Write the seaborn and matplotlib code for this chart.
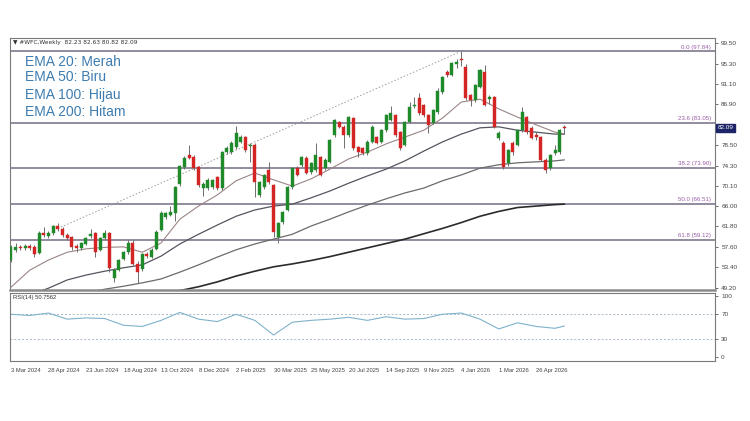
import numpy as np
import matplotlib
matplotlib.use("Agg")
import matplotlib.pyplot as plt
import matplotlib.transforms as mtransforms
import seaborn as sns

# weekly candles (bar 0 = 3 Mar 2024)
opens = [54.9, 57.0, 57.6, 57.3, 57.8, 57.6, 56.4, 60.4, 59.8, 60.4,
         61.9, 61.3, 60.0, 59.6, 57.8, 57.3, 58.2, 59.9, 60.4, 57.0,
         59.4, 60.4, 51.3, 52.9, 55.1, 56.5, 58.4, 54.1, 53.0, 56.1,
         55.6, 57.2, 61.1, 63.7, 64.2, 64.5, 70.5, 74.0, 76.5, 76.1,
         74.0, 69.7, 69.7, 70.0, 71.9, 69.7, 77.1, 77.1, 78.1, 79.2,
         80.2, 78.3, 78.6, 68.2, 69.9, 73.4, 70.3, 59.6, 62.7, 65.2,
         69.9, 73.8, 74.4, 75.9, 73.0, 73.4, 76.1, 73.8, 75.1, 80.6,
         83.3, 82.3, 80.6, 84.1, 78.1, 77.9, 76.9, 79.2, 80.2, 79.2,
         81.6, 83.7, 84.7, 81.2, 78.6, 83.3, 86.6, 88.2, 86.8, 84.7,
         83.1, 85.3, 89.4, 93.5, 93.0, 95.3, 96.1, 94.6, 88.8, 87.8,
         90.5, 93.6, 88.0, 88.4, 80.0, 79.0, 74.9, 79.0, 78.6, 81.6,
         84.3, 82.1, 80.6, 80.2, 75.5, 73.8, 76.9, 77.1, 82.23]
highs = [58.0, 58.3, 58.0, 58.1, 58.2, 57.9, 60.8, 61.7, 60.8, 62.2,
         62.5, 61.6, 60.4, 59.9, 58.2, 58.7, 59.6, 61.2, 60.7, 59.6,
         61.0, 60.7, 53.2, 55.2, 56.8, 59.0, 59.0, 54.6, 56.4, 56.6,
         57.3, 61.0, 64.9, 64.8, 66.0, 70.2, 74.5, 76.2, 78.6, 76.5,
         74.3, 71.0, 71.7, 71.6, 72.2, 77.4, 78.3, 79.3, 82.5, 80.6,
         80.5, 79.0, 78.9, 71.2, 72.7, 75.0, 70.6, 62.8, 65.0, 70.2,
         74.1, 74.2, 76.4, 76.2, 75.1, 79.0, 76.4, 75.8, 79.9, 84.0,
         83.6, 82.6, 84.6, 84.4, 78.4, 78.2, 79.5, 82.6, 80.5, 81.9,
         85.0, 86.6, 85.0, 81.5, 83.6, 87.4, 88.5, 89.2, 87.1, 85.0,
         86.0, 90.2, 92.8, 94.0, 95.7, 96.3, 97.84, 95.3, 89.1, 91.2,
         94.3, 95.0, 88.9, 88.7, 81.4, 79.4, 77.8, 79.3, 81.9, 86.4,
         84.6, 82.4, 81.3, 80.5, 75.8, 76.8, 78.6, 81.9, 82.63]
lows = [54.5, 56.6, 56.9, 56.9, 57.0, 55.5, 56.2, 59.6, 59.4, 60.1,
        60.8, 59.7, 59.0, 57.0, 56.5, 57.0, 57.9, 59.5, 55.5, 56.8,
        59.1, 52.4, 50.4, 52.6, 54.8, 56.2, 53.8, 50.1, 52.7, 55.3,
        55.3, 57.0, 60.8, 63.3, 63.9, 63.0, 70.2, 73.7, 75.6, 73.5,
        70.0, 68.0, 69.4, 69.6, 69.3, 69.4, 76.8, 76.8, 77.8, 78.9,
        77.2, 75.0, 67.8, 67.9, 69.6, 70.6, 59.6, 58.4, 62.4, 64.9,
        69.6, 72.1, 74.1, 72.5, 72.7, 73.1, 72.1, 73.5, 74.8, 80.3,
        82.0, 77.9, 80.3, 77.6, 76.0, 76.6, 76.6, 78.9, 78.7, 78.9,
        81.3, 83.4, 80.3, 77.6, 78.3, 83.0, 86.2, 84.8, 84.4, 81.0,
        82.8, 85.0, 89.1, 92.6, 92.7, 94.5, 94.8, 87.9, 86.5, 87.5,
        90.2, 86.5, 87.0, 82.0, 79.5, 73.7, 74.2, 76.6, 78.3, 81.3,
        80.9, 79.7, 79.5, 75.2, 72.8, 73.5, 76.6, 76.8, 80.82]
closes = [57.6, 57.6, 57.3, 57.7, 57.3, 56.2, 60.4, 60.1, 60.4, 61.9,
          61.2, 60.0, 59.4, 57.6, 57.3, 58.4, 59.4, 60.3, 56.5, 59.4,
          60.4, 53.2, 52.9, 54.9, 56.5, 58.4, 54.1, 52.5, 56.1, 55.8,
          57.0, 60.6, 64.5, 64.5, 64.8, 69.9, 74.2, 75.9, 75.9, 73.8,
          70.3, 70.6, 71.3, 71.3, 69.7, 77.1, 77.9, 79.0, 81.0, 80.2,
          77.5, 78.6, 70.9, 70.9, 72.4, 70.9, 60.7, 62.5, 64.7, 69.9,
          73.8, 72.4, 76.1, 72.8, 74.8, 76.5, 72.4, 75.5, 79.6, 83.7,
          82.3, 80.6, 84.3, 77.9, 77.1, 76.9, 79.2, 82.3, 79.0, 81.6,
          84.7, 85.1, 80.6, 77.9, 83.3, 86.4, 86.8, 85.1, 84.7, 82.7,
          85.7, 89.7, 92.5, 92.9, 95.4, 95.6, 96.0, 88.2, 87.8, 90.9,
          94.0, 86.8, 88.5, 82.3, 81.0, 74.0, 77.5, 77.1, 81.6, 85.3,
          81.2, 80.0, 80.2, 75.5, 73.4, 76.5, 77.5, 81.6, 82.09]

# moving averages, sampled every 4 bars
ema_bars = [0, 4, 8, 12, 16, 20, 24, 28, 32, 36, 40, 44, 48, 52, 56, 60,
            64, 68, 72, 76, 80, 84, 88, 92, 96, 100, 104, 108, 112, 116, 118]
ema20 = [49.3, 52.8, 54.9, 56.5, 57.2, 57.5, 57.6, 56.5, 58.4, 63.3, 66.0,
         68.3, 71.2, 72.8, 71.4, 70.1, 71.6, 73.6, 75.7, 77.1, 78.8, 80.2,
         81.6, 84.1, 87.4, 88.0, 86.0, 84.3, 82.7, 81.2, 80.8]
ema50 = [46.0, 47.7, 49.1, 50.8, 51.8, 52.6, 53.3, 53.9, 55.7, 58.2, 60.2,
         62.1, 63.9, 65.2, 66.0, 66.4, 67.7, 69.1, 70.7, 72.2, 73.6, 75.3,
         77.3, 79.2, 80.8, 82.1, 82.3, 81.6, 81.2, 80.8, 80.8]
ema100 = [43.6, 44.8, 45.8, 46.9, 48.1, 48.9, 49.5, 50.2, 51.0, 52.4, 53.9,
          55.5, 57.0, 58.2, 59.2, 60.2, 61.9, 63.3, 64.8, 66.2, 67.5, 68.7,
          69.7, 71.2, 72.4, 73.8, 74.5, 74.9, 75.1, 75.3, 75.5]
ema200 = [39.2, 40.3, 41.3, 42.4, 43.4, 44.4, 45.5, 46.5, 47.6, 48.6, 49.4,
          50.4, 51.6, 52.6, 53.5, 54.1, 54.8, 55.6, 56.5, 57.4, 58.3, 59.2,
          60.3, 61.4, 62.6, 63.9, 64.9, 65.7, 66.0, 66.3, 66.4]

# RSI(14)
rsi_bars = ema_bars
rsi_vals = [70, 68, 72, 62, 64, 63, 52, 50, 60, 73, 62, 58, 70, 60, 36, 57,
            60, 62, 65, 60, 66, 62, 63, 70, 72, 62, 46, 56, 50, 47, 50.76]

date_ticks = [0, 8, 16, 24, 32, 40, 48, 56, 64, 72, 80, 88, 96, 104, 112]
date_labels = ["3 Mar 2024", "28 Apr 2024", "23 Jun 2024", "18 Aug 2024",
               "13 Oct 2024", "8 Dec 2024", "2 Feb 2025", "30 Mar 2025",
               "25 May 2025", "20 Jul 2025", "14 Sep 2025", "9 Nov 2025",
               "4 Jan 2026", "1 Mar 2026", "26 Apr 2026"]
price_ticks = [99.50, 95.30, 91.10, 86.90, 82.70, 78.50, 74.30, 70.10,
               66.00, 61.80, 57.60, 53.40, 49.20]
fib_levels = ["0.0", "23.6", "38.2", "50.0", "61.8"]
fib_prices = [97.84, 83.05, 73.90, 66.51, 59.12]
trend_bars = [10, 96]
trend_prices = [61.4, 97.84]
last_price = 82.09

sns.set_theme(style="white")
plt.rcParams["font.family"] = ["Liberation Sans", "DejaVu Sans"]

fig = plt.figure(figsize=(7.5, 4.21), dpi=100)
fig.patch.set_facecolor("white")
ax = fig.add_axes([10 / 750, 1 - 290 / 421, 705 / 750, 252 / 421])
ax_rsi = fig.add_axes([10 / 750, 1 - 361 / 421, 705 / 750, 68 / 421])

bars = np.arange(len(closes))
o = np.array(opens)
c = np.array(closes)
up = c >= o
cols = np.where(up, "#1f8a2a", "#d42424")

# fibonacci lines + labels
for lvl, p in zip(fib_levels, fib_prices):
    ax.axhline(p, color="#8a8296", lw=1.3, zorder=1)
    ax.text(149.3, p + 0.35, f"{lvl} ({p:.2f})", color="#9a5aa8",
            fontsize=4.4, ha="right", va="bottom")
ax.plot(trend_bars, trend_prices, color="#9a9a9a", lw=0.7, ls=(0, (1.5, 2)), zorder=1)

# EMAs
sns.lineplot(x=ema_bars, y=ema200, ax=ax, color="#2b2b2b", lw=1.2, zorder=2)
sns.lineplot(x=ema_bars, y=ema100, ax=ax, color="#6b6b6b", lw=0.9, zorder=2)
sns.lineplot(x=ema_bars, y=ema50, ax=ax, color="#55555f", lw=0.9, zorder=2)
sns.lineplot(x=ema_bars, y=ema20, ax=ax, color="#9b8585", lw=0.8, zorder=2)

# candles
ax.vlines(bars, lows, highs, color="#6e6e6e", lw=0.7, zorder=3)
body = np.maximum(np.abs(c - o), 0.18)
ax.bar(bars, body, bottom=np.minimum(o, c), width=0.64, color=cols,
       edgecolor=cols, lw=0.3, zorder=4)

ax.set_xlim(-0.2, 150.1)
ax.set_ylim(48.73, 100.58)
ax.set_xticks([])
ax.yaxis.tick_right()
ax.set_yticks(price_ticks)
# 82.70 sits under the current-price badge
ax.set_yticklabels(["" if t == 82.70 else f"{t:.2f}" for t in price_ticks])
ax.tick_params(axis="y", labelsize=4.6, colors="#555555", length=2.5, width=0.6,
               pad=2, labelcolor="#444444")
for s in ax.spines.values():
    s.set_color("#7a7a7a")
    s.set_linewidth(0.8)
ax.spines["bottom"].set_linewidth(1.8)
ax.spines["bottom"].set_color("#8a8a8a")

# current price badge
trans = mtransforms.blended_transform_factory(ax.transAxes, ax.transData)
ax.text(1.004, last_price, f"{last_price:.2f}", transform=trans, fontsize=4.6,
        color="white", va="center", ha="left",
        bbox=dict(boxstyle="square,pad=0.25", fc="#1c2366", ec="#1c2366"))

ax.text(0.004, 0.992, "\u25bc #WFC,Weekly  82.23 82.63 80.82 82.09",
        transform=ax.transAxes, fontsize=4.2, color="#333333", va="top", ha="left",
        family=["DejaVu Sans"])

# legend text for the EMAs
for i, t in enumerate(["EMA 20: Merah", "EMA 50: Biru", "EMA 100: Hijau", "EMA 200: Hitam"]):
    fig.text(25 / 750, 1 - [61.7, 76.7, 95.0, 111.7][i] / 421, t, fontsize=10,
             color="#3d7cb0", va="center", ha="left")

# RSI panel
ax_rsi.axhline(70, color="#a8b8c8", lw=0.7, ls=(0, (2, 2)))
ax_rsi.axhline(30, color="#a8b8c8", lw=0.7, ls=(0, (2, 2)))
sns.lineplot(x=rsi_bars, y=rsi_vals, ax=ax_rsi, color="#7fb2cc", lw=0.8)
ax_rsi.set_xlim(-0.2, 150.1)
ax_rsi.set_ylim(-6.5, 104.8)
ax_rsi.yaxis.tick_right()
ax_rsi.set_yticks([100, 70, 30, 0])
ax_rsi.set_yticklabels(["100", "70", "30", "0"])
ax_rsi.tick_params(axis="y", labelsize=4.6, colors="#555555", length=2.5, width=0.6,
                   pad=2, labelcolor="#444444")
ax_rsi.set_xticks(date_ticks)
ax_rsi.set_xticklabels(date_labels, ha="left")
ax_rsi.tick_params(axis="x", labelsize=4.2, colors="#555555", length=3, width=0.6,
                   pad=2, labelcolor="#444444")
for s in ax_rsi.spines.values():
    s.set_color("#7a7a7a")
    s.set_linewidth(0.8)
ax_rsi.text(0.004, 0.97, "RSI(14) 50.7562", transform=ax_rsi.transAxes,
            fontsize=4.2, color="#333333", va="top", ha="left")

fig.savefig("out.png", dpi=100, facecolor="white")
